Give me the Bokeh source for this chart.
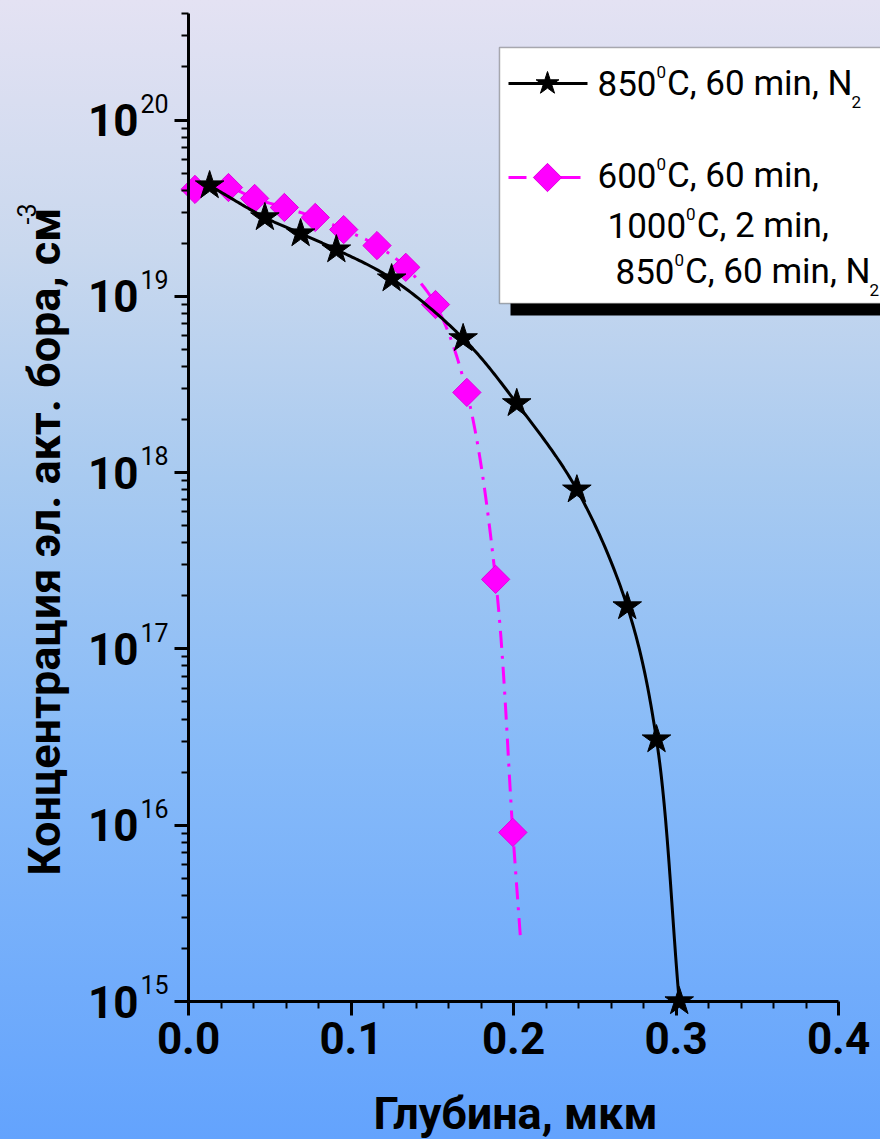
import numpy as np
from bokeh.plotting import figure
from bokeh.models import Range1d, FixedTicker, Label, BoxAnnotation
from bokeh.embed import file_html
from bokeh.resources import INLINE

# Boron profile after 850 C, 60 min in N2: depth (um) and active concentration (cm^-3)
depth_850 = [0.013, 0.047, 0.069, 0.091, 0.125, 0.169, 0.202, 0.239, 0.270, 0.288, 0.302]
conc_850 = [4.25e19, 2.80e19, 2.27e19, 1.84e19, 1.26e19, 5.77e18, 2.47e18, 8.0e17, 1.74e17, 3.06e16, 1.0e15]

# Boron profile after 600 C 60 min + 1000 C 2 min + 850 C 60 min in N2
depth_multi = [0.004, 0.0246, 0.0407, 0.059, 0.078, 0.0955, 0.116, 0.1337, 0.152, 0.1713, 0.189, 0.1996]
conc_multi = [4.04e19, 4.14e19, 3.59e19, 3.19e19, 2.80e19, 2.39e19, 1.94e19, 1.46e19, 8.98e18, 2.85e18, 2.48e17, 9.1e15]
# the fitted curve of the second profile runs on a little past the last measurement
tail_depth_multi = [0.2043]
tail_conc_multi = [2.28e15]

x_ticks = [0.0, 0.1, 0.2, 0.3, 0.4]
x_tick_labels = ["0.0", "0.1", "0.2", "0.3", "0.4"]
x_minor_ticks = [0.02, 0.04, 0.06, 0.08, 0.12, 0.14, 0.16, 0.18, 0.22, 0.24, 0.26, 0.28,
                 0.32, 0.34, 0.36, 0.38]
y_decades = [15, 16, 17, 18, 19, 20]
y_top = 4e20

legend_rows = [
    # (left px, baseline px, [(text, role), ...])
    (597, 95, [("850", "main"), ("0", "sup"), ("C, 60 min, N", "main"), ("2", "sub")]),
    (597, 187, [("600", "main"), ("0", "sup"), ("C, 60 min,", "main")]),
    (607, 237, [("1000", "main"), ("0", "sup"), ("C, 2 min,", "main")]),
    (615, 283, [("850", "main"), ("0", "sup"), ("C, 60 min, N", "main"), ("2", "sub")]),
]

FONT = "Roboto"
CAP = 0.711          # Roboto cap height, em
W, H = 880, 1139
X0, Y0 = 188, 1001   # canvas pixel of depth 0 and of 1e15
SX = 1625.0          # pixels per um of depth
SY = 176.3           # pixels per decade


def at(px, py):
    """Canvas pixel position -> data coordinates (for annotations)."""
    return (px - X0) / SX, 10 ** (15 + (Y0 - py) / SY)


def smooth(xs, ys, n=30):
    """Centripetal Catmull-Rom curve through the points, in screen-like space."""
    P = np.column_stack([np.asarray(xs, float) * SX, np.log10(ys) * SY])
    P = np.vstack([2 * P[0] - P[1], P, 2 * P[-1] - P[-2]])
    out = []
    for i in range(1, len(P) - 2):
        p0, p1, p2, p3 = P[i - 1], P[i], P[i + 1], P[i + 2]
        t0 = 0.0
        t1 = t0 + np.linalg.norm(p1 - p0) ** 0.5
        t2 = t1 + np.linalg.norm(p2 - p1) ** 0.5
        t3 = t2 + np.linalg.norm(p3 - p2) ** 0.5
        t = np.linspace(t1, t2, n, endpoint=False)[:, None]
        A1 = (t1 - t) / (t1 - t0) * p0 + (t - t0) / (t1 - t0) * p1
        A2 = (t2 - t) / (t2 - t1) * p1 + (t - t1) / (t2 - t1) * p2
        A3 = (t3 - t) / (t3 - t2) * p2 + (t - t2) / (t3 - t2) * p3
        B1 = (t2 - t) / (t2 - t0) * A1 + (t - t0) / (t2 - t0) * A2
        B2 = (t3 - t) / (t3 - t1) * A2 + (t - t1) / (t3 - t1) * A3
        out.append((t2 - t) / (t2 - t1) * B1 + (t - t1) / (t2 - t1) * B2)
    out.append(P[-2][None, :])
    C = np.vstack(out)
    return C[:, 0] / SX, 10 ** (C[:, 1] / SY)


def text_at(px, py, text, size, bold=False, align="left", angle=0.0):
    """Text whose capitals are centred on the given canvas position."""
    x, y = at(px, py)
    p.add_layout(Label(x=x, y=y, text=text, angle=angle, text_align=align,
                       text_baseline="middle", text_font=FONT,
                       text_font_style="bold" if bold else "normal",
                       text_font_size=f"{size}px", text_color="black"))


# the plot frame covers the whole canvas; axes sit at fixed data locations
x0, y_lo = at(0, H)
x1, y_hi = at(W, 0)
p = figure(width=W, height=H, x_range=Range1d(x0, x1), y_range=Range1d(y_lo, y_hi),
           y_axis_type="log", output_backend="svg", toolbar_location=None,
           min_border_left=0, min_border_right=0, min_border_top=0, min_border_bottom=0)
p.background_fill_color = None
p.border_fill_color = None
p.outline_line_color = None
p.styles = {"background": "linear-gradient(180deg, #e4e2f3 0%, #c9d8ee 22%, #a8caf0 42%, "
                          "#88bbf8 65%, #63a3fd 100%)"}

# axes
p.xaxis.fixed_location = 1e15
p.yaxis.fixed_location = 0.0
p.xaxis.ticker = FixedTicker(ticks=x_ticks, minor_ticks=x_minor_ticks)
p.xaxis.bounds = (0, 0.4)
p.xaxis.major_label_overrides = {t: s for t, s in zip(x_ticks, x_tick_labels)}
p.xaxis.major_label_text_font = FONT
p.xaxis.major_label_text_font_style = "bold"
p.xaxis.major_label_text_font_size = "44px"
p.xaxis.major_label_text_color = "black"
p.xaxis.major_label_standoff = 6

y_minor = [m * 10.0 ** d for d in y_decades for m in range(2, 10) if m * 10.0 ** d <= y_top]
p.yaxis.ticker = FixedTicker(ticks=[10.0 ** d for d in y_decades], minor_ticks=y_minor)
p.yaxis.bounds = (1e15, y_top)
# the decade labels carry superscripts and are drawn as separate labels below
p.yaxis.major_label_text_font_size = "10px"
p.yaxis.major_label_text_alpha = 0

for ax in (p.xaxis[0], p.yaxis[0]):
    ax.axis_line_width = 3
    ax.axis_line_color = "black"
    ax.major_tick_line_width = 3
    ax.minor_tick_line_width = 2
    ax.major_tick_in = 0
    ax.major_tick_out = 14
    ax.minor_tick_in = 0
    ax.minor_tick_out = 7

# dotted grid
p.xgrid.ticker = FixedTicker(ticks=[0.1, 0.2, 0.3])
p.ygrid.ticker = FixedTicker(ticks=[10.0 ** d for d in y_decades[1:]])
p.xgrid.bounds = (1e15, y_top)
p.xgrid.cross_bounds = (0, 0.4)
p.ygrid.bounds = (0, 0.4)
p.ygrid.cross_bounds = (1e15, y_top)
for g in (p.xgrid[0], p.ygrid[0]):
    g.grid_line_color = "#1f232c"
    g.grid_line_width = 1
    g.grid_line_dash = "1 1"

# legend box with drop shadow (drawn under the data)
l0, t0 = at(510, 59)
r0, b0 = at(W + 40, 315)
p.add_layout(BoxAnnotation(left=l0, right=r0, top=t0, bottom=b0, fill_color="black",
                           fill_alpha=1, line_color=None, level="underlay"))
l1, t1 = at(499, 47)
r1, b1 = at(W + 40, 303)
p.add_layout(BoxAnnotation(left=l1, right=r1, top=t1, bottom=b1, fill_color="white",
                           fill_alpha=1, line_color="black", line_width=1.5, level="underlay"))

# curves and markers
mx, my = smooth(depth_multi + tail_depth_multi, conc_multi + tail_conc_multi)
p.line(mx, my, line_color="#ff00ff", line_width=3, line_dash="17 8 3 8")
p.scatter(depth_multi, conc_multi, marker="square", angle=np.pi / 4, size=20,
          fill_color="#ff00ff", line_color="#e000e0", line_width=1)

bx, by = smooth(depth_850, conc_850)
p.line(bx, by, line_color="black", line_width=3)
p.scatter(depth_850, conc_850, marker="star", size=30, fill_color="black", line_color="black")

# y tick labels as 10 with a superscript exponent
for d in y_decades:
    ty_px = Y0 - (d - 15) * SY
    text_at(138, ty_px, "10", 44, bold=True, align="right")
    text_at(140, ty_px - 8 - CAP * 25 / 2, str(d), 25)

# axis titles (baselines: y title at x=60, x title at y=1129)
text_at(60 - CAP * 45 / 2, 875, "Концентрация эл. акт. бора, см", 45, bold=True,
        angle=np.pi / 2)
text_at(35 - CAP * 25 / 2, 224, "-3", 25, angle=np.pi / 2)
text_at(515, 1129 - CAP * 45 / 2, "Глубина, мкм", 45, bold=True, align="center")

# legend keys
k0, ky1 = at(508, 83)
k1, _ = at(587, 83)
kc, _ = at(547, 83)
p.line([k0, k1], [ky1, ky1], line_color="black", line_width=3)
p.scatter([kc], [ky1], marker="star", size=24, color="black")
_, ky2 = at(0, 177)
k2, _ = at(580, 177)
p.line([k0, k2], [ky2, ky2], line_color="#ff00ff", line_width=3, line_dash="18 32 40")
p.scatter([kc], [ky2], marker="square", angle=np.pi / 4, size=20, fill_color="#ff00ff",
          line_color="#e000e0")

# legend texts: pieces chained by approximate Roboto advance widths (em)
ADV = {d: 0.5615 for d in "0123456789"}
ADV.update({"C": 0.652, ",": 0.192, " ": 0.2476, "m": 0.876, "i": 0.2427, "n": 0.5518,
            "N": 0.699})
ROLE = {"main": (35, 0), "sup": (17, -17), "sub": (17, 13)}

for left, base, parts in legend_rows:
    cur = left
    for text, role in parts:
        size, dy = ROLE[role]
        text_at(cur, base + dy - CAP * size / 2, text, size)
        cur += sum(ADV[c] for c in text) * size + (1 if role != "main" else 0)

open("out.html", "w").write(file_html(p, INLINE))
